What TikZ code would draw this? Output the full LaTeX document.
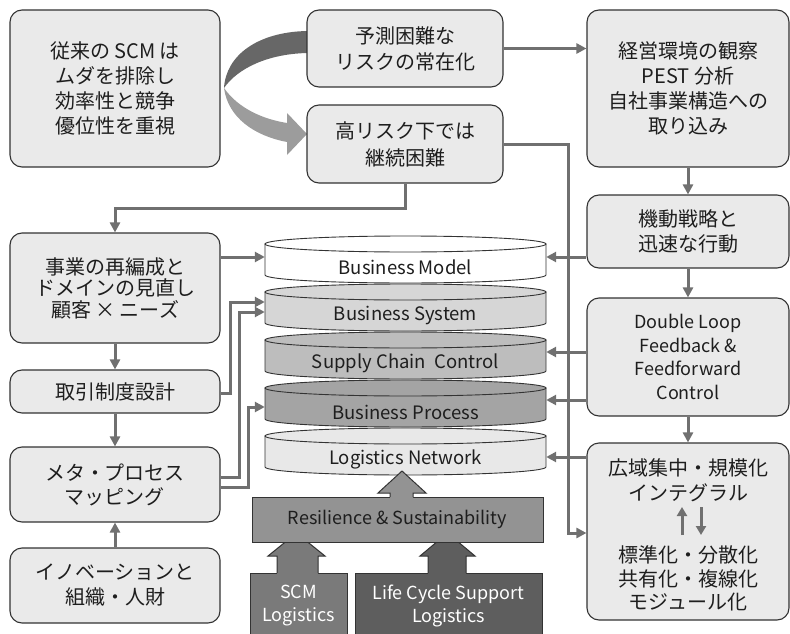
\documentclass[tikz,border=0pt]{standalone}
\usepackage{fontspec}
\setmainfont{Noto Sans CJK JP}
\usetikzlibrary{arrows.meta}
\definecolor{boxfill}{HTML}{EAEAEA}
\definecolor{boxline}{HTML}{333333}
\definecolor{conncol}{HTML}{707070}
\definecolor{txt}{HTML}{1E1E1E}
\definecolor{ribdark}{HTML}{676767}
\definecolor{riblight}{HTML}{9C9C9C}
\definecolor{cylA}{HTML}{FFFFFF}
\definecolor{cylB}{HTML}{D6D6D6}
\definecolor{cylC}{HTML}{BDBDBD}
\definecolor{cylD}{HTML}{A4A4A4}
\definecolor{cylE}{HTML}{E8E8E8}
\definecolor{resfill}{HTML}{939393}
\definecolor{scmfill}{HTML}{7A7A7A}
\definecolor{lcfill}{HTML}{5E5E5E}
\begin{document}
\begin{tikzpicture}[x=1pt,y=-1pt,
  box/.style={draw=boxline, fill=boxfill, line width=1.1pt, rounded corners=12pt,
    align=center, inner sep=0pt, text=txt, font=\fontsize{20}{25}\selectfont},
  conn/.style={draw=conncol, line width=3pt, -{Triangle[length=10pt,width=10pt]}},
  dconn/.style={conn, preaction={draw=white, line width=7pt, -, shorten >=9pt}},
  layer/.style={minimum width=281pt, minimum height=31pt, inner sep=0pt, text=txt,
    font=\fontsize{18.5}{21}\selectfont},
  blockarrow/.style={draw=boxline, line width=1pt, line join=miter},
]
\useasboundingbox (0,0) rectangle (790,634);

% curved ribbon arrow
\fill[ribdark] (307,31) .. controls (258,32) and (226,55) .. (224,88)
  .. controls (238,68) and (268,54) .. (307,53) -- cycle;
\fill[riblight] (224,88) .. controls (228,118) and (255,136) .. (287,142)
  -- (287,155) -- (307,134) -- (287,113) -- (287,123)
  .. controls (262,119) and (238,108) .. (224,88) -- cycle;

% left column
\node[box, minimum width=210pt, minimum height=157pt] (A) at (115,88.5)
  {従来の SCM は\\ムダを排除し\\効率性と競争\\優位性を重視};
\node[box, minimum width=210pt, minimum height=110pt, font=\fontsize{20}{21.5}\selectfont] (E) at (115,288)
  {事業の再編成と\\ドメインの見直し\\顧客 × ニーズ};
\node[box, minimum width=210pt, minimum height=43pt] (F) at (115,391.5) {取引制度設計};
\node[box, minimum width=210pt, minimum height=75pt, font=\fontsize{20}{24}\selectfont] (G) at (115,484.5)
  {メタ・プロセス\\マッピング};
\node[box, minimum width=210pt, minimum height=75pt] (H) at (115,585.5)
  {イノベーションと\\組織・人財};

% middle top
\node[box, minimum width=196pt, minimum height=77pt, font=\fontsize{20}{26}\selectfont] (B) at (405,48.5)
  {予測困難な\\リスクの常在化};
\node[box, minimum width=196pt, minimum height=78pt, font=\fontsize{20}{27}\selectfont] (C) at (405,144)
  {高リスク下では\\継続困難};

% right column
\node[box, minimum width=202pt, minimum height=157pt] (D) at (688,88.5)
  {経営環境の観察\\PEST 分析\\自社事業構造への\\取り込み};
\node[box, minimum width=202pt, minimum height=73pt] (I) at (688,231.5)
  {機動戦略と\\迅速な行動};
\node[box, minimum width=202pt, minimum height=118pt, font=\fontsize{18}{23.5}\selectfont] (J) at (688,357)
  {Double Loop\\Feedback \&\\Feedforward\\Control};
\node[box, minimum width=202pt, minimum height=177pt] (K) at (688,531.5) {};
\node[align=center, inner sep=0pt, text=txt, font=\fontsize{20}{25}\selectfont] (K1) at (688,480)
  {広域集中・規模化\\インテグラル};
\node[align=center, inner sep=0pt, text=txt, font=\fontsize{20}{23.5}\selectfont] (K2) at (688,578.5)
  {標準化・分散化\\共有化・複線化\\モジュール化};
\coordinate (KupB) at (682,535);
\coordinate (KupT) at (682,507);
\coordinate (KdnT) at (701,507);
\coordinate (KdnB) at (701,535);
\draw[conn, -{Triangle[length=9pt,width=10pt]}] (KupB) -- (KupT);
\draw[conn, -{Triangle[length=9pt,width=10pt]}] (KdnT) -- (KdnB);

% cylinders
\foreach \t/\c in {244/cylA, 292/cylB, 340/cylC, 388/cylD, 436/cylE}{
  \filldraw[fill=\c, draw=boxline, line width=0.9pt]
    (265,\t) -- (265,\t+31) arc[start angle=180, end angle=360, x radius=140.5pt, y radius=8pt]
    -- (546,\t) -- cycle;
  \filldraw[fill=\c, draw=boxline, line width=0.9pt]
    (405.5,\t) ellipse[x radius=140.5pt, y radius=8pt];
}
\node[layer] (BM) at (405.5,267) {Business Model};
\node[layer] (BS) at (405.5,315) {Business System};
\node[layer] (SC) at (405.5,363) {Supply Chain\ \ Control};
\node[layer] (BP) at (405.5,412) {Business Process};
\node[layer] (LN) at (405.5,459) {Logistics Network};

% bottom blocks
\node[draw=boxline, fill=scmfill, line width=1pt, minimum width=97pt, minimum height=66pt,
  inner sep=0pt, text=white, align=center, font=\fontsize{18}{23}\selectfont] (SCM) at (298.5,606)
  {SCM\\Logistics};
\node[draw=boxline, fill=lcfill, line width=1pt, minimum width=187pt, minimum height=66pt,
  inner sep=0pt, text=white, align=center, font=\fontsize{18}{23}\selectfont] (LC) at (448.5,606)
  {Life Cycle Support\\Logistics};

\fill[scmfill] (277,574.5) -- (277,556) -- (268,556) -- (296.5,533) -- (325,556) -- (318,556) -- (318,574.5) -- cycle;
\draw[blockarrow] (277,573) -- (277,556) -- (268,556) -- (296.5,533) -- (325,556) -- (318,556) -- (318,573);
\fill[lcfill] (428,574.5) -- (428,556) -- (420,556) -- (447.5,533) -- (475,556) -- (466,556) -- (466,574.5) -- cycle;
\draw[blockarrow] (428,573) -- (428,556) -- (420,556) -- (447.5,533) -- (475,556) -- (466,556) -- (466,573);

\node[draw=boxline, fill=resfill, line width=1pt, minimum width=291pt, minimum height=45pt,
  inner sep=0pt, text=txt, font=\fontsize{18}{20}\selectfont] (RS) at (397.5,519.5)
  {Resilience \& Sustainability};

\fill[resfill] (390,498.5) -- (390,493) -- (378,493) -- (402,471) -- (426,493) -- (413,493) -- (413,498.5) -- cycle;
\draw[blockarrow] (390,497) -- (390,493) -- (378,493) -- (402,471) -- (426,493) -- (413,493) -- (413,497);

% connectors
\draw[conn] (B.east) -- (B.east -| D.west);
\draw[conn] (D.south) -- (I.north);
\draw[conn] (I.south) -- (J.north);
\draw[conn] (J.south) -- (K.north);
\draw[conn] (C.south) -- (405,208) -| (E.north);
\coordinate (CK) at (568,533);
\draw[conn] (C.east) -| (CK) -- (CK -| K.west);
\draw[conn] (E.south) -- (F.north);
\draw[conn] (F.south) -- (G.north);
\draw[conn] (H.north) -- (G.south);

\draw[conn] (E.east |- 0,257) -- (BM.west |- 0,257);
\draw[conn] (I.west |- 0,257) -- (BM.east |- 0,257);
\draw[conn] (J.west |- 0,352) -- (SC.east |- 0,352);
\draw[conn] (J.west |- 0,400) -- (BP.east |- 0,400);
\draw[conn] (K.west |- 0,457) -- (LN.east |- 0,457);

\draw[dconn] (F.east |- 0,393) -| (230,302) -- (BS.west |- 0,302);
\draw[dconn] (G.east |- 0,477) -| (239,312) -- (BS.west |- 0,312);
\draw[dconn] (G.east |- 0,487) -| (248,407) -- (BP.west |- 0,407);
\end{tikzpicture}
\end{document}
